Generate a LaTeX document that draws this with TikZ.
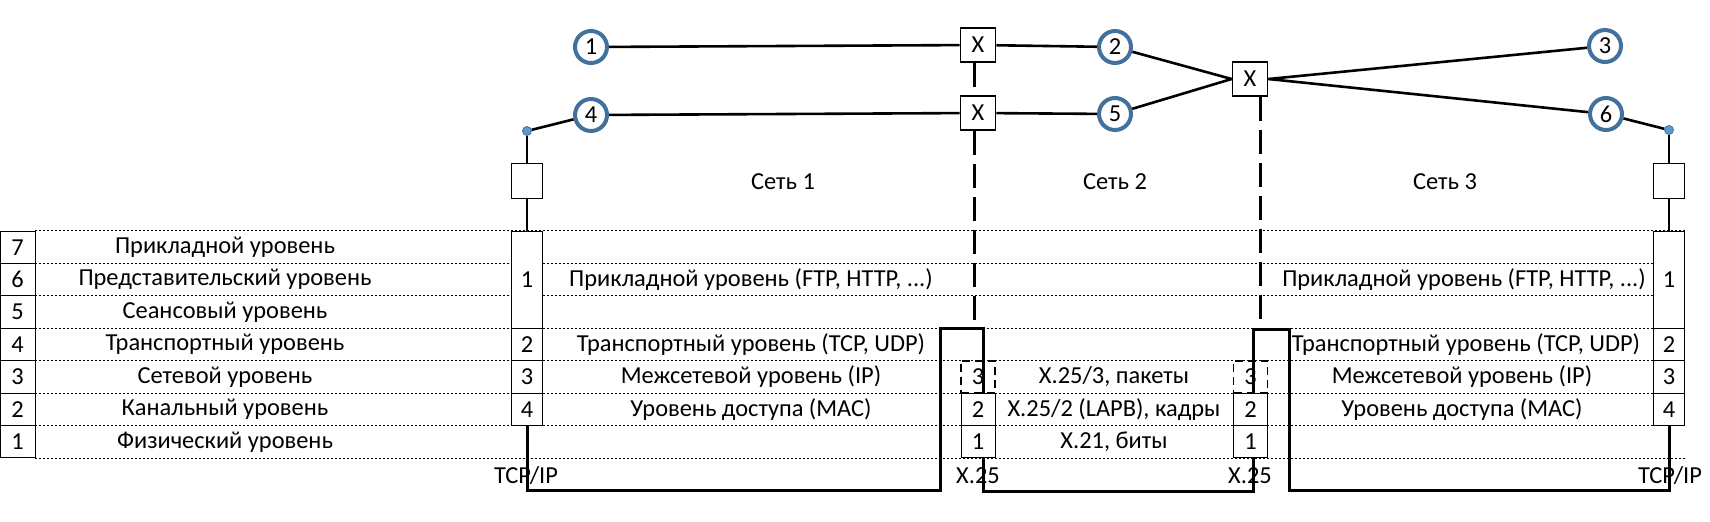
\documentclass[tikz,border=0pt]{standalone}
\usepackage{fontspec}
\setmainfont{Carlito}
\usepackage{xcolor}
\usepackage{tikz}
\definecolor{ring}{HTML}{41719C}
\definecolor{portblue}{HTML}{5B9BD5}

\begin{document}
\begin{tikzpicture}[
  x=0.5pt, y=-0.5pt, font=\fontsize{12.2}{14}\selectfont,
  host/.style={circle, draw=ring, line width=2pt, fill=white, minimum size=16pt, inner sep=0pt},
  sw/.style  ={draw, line width=0.9pt, fill=white, minimum width=17.5pt, minimum height=17pt, inner sep=0pt},
  port/.style={circle, draw=ring, fill=portblue, line width=0.4pt, minimum size=4.5pt, inner sep=0pt},
  term/.style={draw, line width=0.9pt, fill=white, minimum width=15.5pt, minimum height=17.5pt, inner sep=0pt},
  cell/.style={draw, line width=0.5pt, fill=white, inner sep=0pt, minimum width=15.5pt, minimum height=16.2pt},
  xcell/.style={cell, minimum width=17pt},
  ln/.style  ={line width=1.3pt},
  thk/.style ={line width=1.5pt},
  dsh/.style ={line width=1.5pt, dash pattern=on 12pt off 4.5pt},
  grid/.style={line width=0.5pt, dash pattern=on 1pt off 1pt}
]
\useasboundingbox (0,0) rectangle (1710,521);

\foreach \k in {0,...,7}
  \draw[grid] (35,{458-32.43*\k}) -- (1687,{458-32.43*\k});

\foreach \n/\t in {7/Прикладной уровень, 6/Представительский уровень, 5/Сеансовый уровень,
                   4/Транспортный уровень, 3/Сетевой уровень, 2/Канальный уровень, 1/Физический уровень} {
  \node[cell, minimum width=17.5pt] (osi\n) at (17.5,{458-32.43*(\n-0.5)}) {\n};
  \node (lay\n) at (225,{458-32.43*(\n-0.5)}) {\t};
}

\foreach \s/\x in {ta/527, tb/1669} {
  \node[cell, minimum height=48.6pt] (\s1) at (\x,{458-32.43*5.5}) {1};
  \node[cell] (\s2) at (\x,{458-32.43*3.5}) {2};
  \node[cell] (\s3) at (\x,{458-32.43*2.5}) {3};
  \node[cell] (\s4) at (\x,{458-32.43*1.5}) {4};
}
\foreach \s/\x in {xa/978, xb/1250.5} {
  \node[xcell, line width=0.9pt, dash pattern=on 4pt off 2.5pt] (\s3) at (\x,{458-32.43*2.5}) {3};
  \node[xcell] (\s2) at (\x,{458-32.43*1.5}) {2};
  \node[xcell] (\s1) at (\x,{458-32.43*0.5}) {1};
}

\node (appa) at (751,{458-32.43*5.5}) {Прикладной уровень (FTP, HTTP, ...)};
\node (trna) at (751,{458-32.43*3.5}) {Транспортный уровень (TCP, UDP)};
\node (neta) at (751,{458-32.43*2.5}) {Межсетевой уровень (IP)};
\node (maca) at (751,{458-32.43*1.5}) {Уровень доступа (MAC)};
\node (pkt)  at (1114,{458-32.43*2.5}) {X.25/3, пакеты};
\node (frm)  at (1114,{458-32.43*1.5}) {X.25/2 (LAPB), кадры};
\node (bit)  at (1114,{458-32.43*0.5}) {X.21, биты};
\node (appb) at (1464,{458-32.43*5.5}) {Прикладной уровень (FTP, HTTP, ...)};
\node (trnb) at (1466,{458-32.43*3.5}) {Транспортный уровень (TCP, UDP)};
\node (netb) at (1462,{458-32.43*2.5}) {Межсетевой уровень (IP)};
\node (macb) at (1462,{458-32.43*1.5}) {Уровень доступа (MAC)};

\node (stka) at (526,476) {TCP/IP};
\node (stkx) at (978,476) {X.25};
\node (stky) at (1250,476) {X.25};
\node (stkb) at (1670,476) {TCP/IP};

\node (net1) at (783,182) {Сеть 1};
\node (net2) at (1115,182) {Сеть 2};
\node (net3) at (1445,182) {Сеть 3};

\node[host] (h1) at (591,47) {1};
\node[host] (h2) at (1115,47) {2};
\node[host] (h3) at (1605,46) {3};
\node[host] (h4) at (591,115) {4};
\node[host] (h5) at (1115,114) {5};
\node[host] (h6) at (1606,114) {6};
\node[sw] (s1) at (978,45) {X};
\node[sw] (s2) at (978,113) {X};
\node[sw] (s3) at (1250,79) {X};
\node[term] (ea) at (527,181) {};
\node[term] (eb) at (1669,181) {};
\node[port] (pa) at (527,131) {};
\node[port] (pb) at (1669,130) {};
\coordinate (da) at (974,322);
\coordinate (db) at (1260,322);

\draw[ln] (h1) -- (s1); \draw[ln] (s1) -- (h2);
\draw[ln] (h4) -- (s2); \draw[ln] (s2) -- (h5);
\draw[ln] (h2) -- (s3.west); \draw[ln] (h5) -- (s3.west);
\draw[ln] (s3.east) -- (h3); \draw[ln] (s3.east) -- (h6);
\draw[ln] (pa) -- (h4); \draw[ln] (pa) -- (ea); \draw[ln] (ea) -- (ta1);
\draw[ln] (pb) -- (h6); \draw[ln] (pb) -- (eb); \draw[ln] (eb) -- (tb1);
\draw[dsh] ([xshift=-2pt]s1.south) -- ([xshift=-2pt]s2.north);
\draw[dsh] ([xshift=-2pt]s2.south) -- (da);
\draw[dsh] ([xshift=5pt]s3.south) -- (db);

\draw[thk] (ta4.south) |- (940,490) |- (983,328) -- ([xshift=2.5pt]xa3.south);
\draw[thk] ([xshift=2.5pt]xa1.south) -- ++(0,33) -| ([xshift=1.25pt]xb1.south);
\draw[thk] ([xshift=1.25pt]xb3.south) -- ++(0,-65) -| (1289,490) -| (tb4.south);
\end{tikzpicture}
\end{document}
